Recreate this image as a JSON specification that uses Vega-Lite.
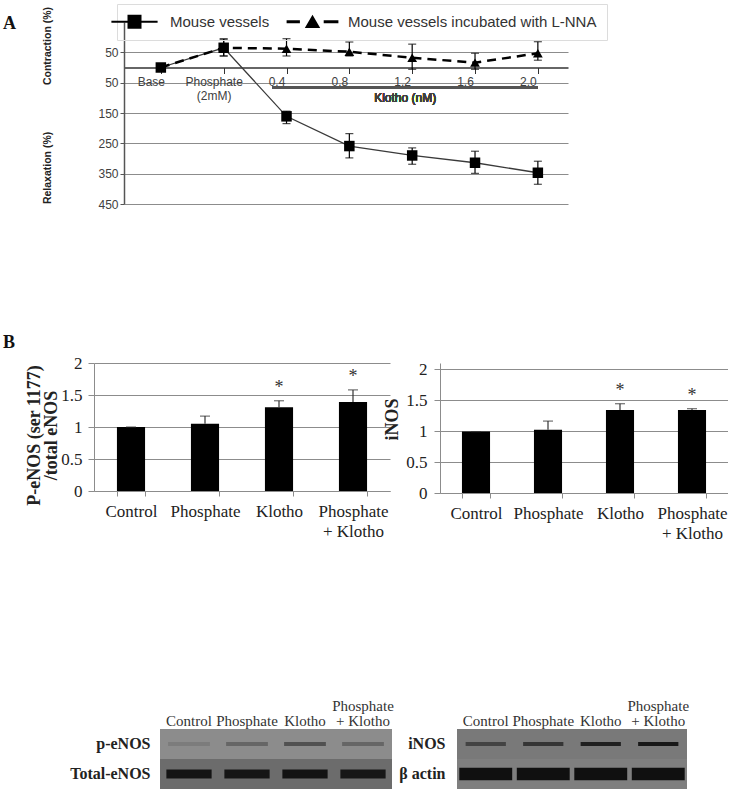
{
  "$schema": "https://vega.github.io/schema/vega-lite/v6.json",
  "autosize": {"type": "pad"},
  "padding": {"left": 3, "top": 3, "right": 0, "bottom": 0},
  "background": "white",
  "config": {"view": {"stroke": null}, "font": "Liberation Sans"},
  "datasets": {
    "vessels": [
      {"series": "Mouse vessels incubated with L-NNA", "dose": "Base", "value": 0, "lo": null, "hi": null},
      {"series": "Mouse vessels incubated with L-NNA", "dose": "Phosphate (2mM)", "value": 65, "lo": 38, "hi": 94},
      {"series": "Mouse vessels incubated with L-NNA", "dose": "0.4", "value": 62, "lo": 38, "hi": 95},
      {"series": "Mouse vessels incubated with L-NNA", "dose": "0.8", "value": 52, "lo": 38, "hi": 84},
      {"series": "Mouse vessels incubated with L-NNA", "dose": "1.2", "value": 32, "lo": -6, "hi": 77},
      {"series": "Mouse vessels incubated with L-NNA", "dose": "1.6", "value": 16, "lo": -6, "hi": 47},
      {"series": "Mouse vessels incubated with L-NNA", "dose": "2.0", "value": 47, "lo": 24, "hi": 85},
      {"series": "Mouse vessels", "dose": "Base", "value": 0, "lo": null, "hi": null},
      {"series": "Mouse vessels", "dose": "Phosphate (2mM)", "value": 65, "lo": 38, "hi": 94},
      {"series": "Mouse vessels", "dose": "0.4", "value": -161, "lo": -185, "hi": -144},
      {"series": "Mouse vessels", "dose": "0.8", "value": -259, "lo": -298, "hi": -218},
      {"series": "Mouse vessels", "dose": "1.2", "value": -290, "lo": -319, "hi": -265},
      {"series": "Mouse vessels", "dose": "1.6", "value": -314, "lo": -349, "hi": -276},
      {"series": "Mouse vessels", "dose": "2.0", "value": -347, "lo": -385, "hi": -309}
    ],
    "peNOS": [
      {"condition": "Control", "ratio": 1.0, "upper": 1.0, "sig": ""},
      {"condition": "Phosphate", "ratio": 1.05, "upper": 1.17, "sig": ""},
      {"condition": "Klotho", "ratio": 1.31, "upper": 1.41, "sig": "*"},
      {"condition": "Phosphate + Klotho", "ratio": 1.39, "upper": 1.58, "sig": "*"}
    ],
    "iNOS": [
      {"condition": "Control", "ratio": 0.99, "upper": 0.99, "sig": ""},
      {"condition": "Phosphate", "ratio": 1.02, "upper": 1.16, "sig": ""},
      {"condition": "Klotho", "ratio": 1.34, "upper": 1.44, "sig": "*"},
      {"condition": "Phosphate + Klotho", "ratio": 1.34, "upper": 1.36, "sig": "*"}
    ],
    "blotL": [
      {"kind": "membrane", "protein": "p-eNOS", "density": 0.12},
      {"kind": "membrane", "protein": "Total-eNOS", "density": 0.32},
      {"kind": "band", "protein": "p-eNOS", "lane": "Control", "density": 0.22},
      {"kind": "band", "protein": "p-eNOS", "lane": "Phosphate", "density": 0.36},
      {"kind": "band", "protein": "p-eNOS", "lane": "Klotho", "density": 0.5},
      {"kind": "band", "protein": "p-eNOS", "lane": "Phosphate + Klotho", "density": 0.36},
      {"kind": "band", "protein": "Total-eNOS", "lane": "Control", "density": 0.94},
      {"kind": "band", "protein": "Total-eNOS", "lane": "Phosphate", "density": 0.93},
      {"kind": "band", "protein": "Total-eNOS", "lane": "Klotho", "density": 0.95},
      {"kind": "band", "protein": "Total-eNOS", "lane": "Phosphate + Klotho", "density": 0.92}
    ],
    "blotR": [
      {"kind": "membrane", "protein": "iNOS", "density": 0.24},
      {"kind": "membrane", "protein": "β actin", "density": 0.2},
      {"kind": "band", "protein": "iNOS", "lane": "Control", "density": 0.59},
      {"kind": "band", "protein": "iNOS", "lane": "Phosphate", "density": 0.69},
      {"kind": "band", "protein": "iNOS", "lane": "Klotho", "density": 0.85},
      {"kind": "band", "protein": "iNOS", "lane": "Phosphate + Klotho", "density": 0.91},
      {"kind": "band", "protein": "β actin", "lane": "Control", "density": 0.97},
      {"kind": "band", "protein": "β actin", "lane": "Phosphate", "density": 0.97},
      {"kind": "band", "protein": "β actin", "lane": "Klotho", "density": 0.97},
      {"kind": "band", "protein": "β actin", "lane": "Phosphate + Klotho", "density": 0.97}
    ]
  },
  "vconcat": [
    {
      "hconcat": [
        {"width": 1, "height": 312, "data": {"values": []}, "mark": "point"},
        {
          "width": 444, "height": 182,
          "title": {"text": "A", "anchor": "start", "frame": "group", "offset": 0, "dx": -121, "dy": 40.5, "baseline": "alphabetic", "font": "Liberation Serif", "fontSize": 18, "fontWeight": "bold", "color": "#111"},
          "data": {"name": "vessels"},
          "encoding": {
            "x": {"field": "dose", "type": "ordinal",
              "scale": {"type": "point", "domain": ["Base", "Phosphate (2mM)", "0.4", "0.8", "1.2", "1.6", "2.0"], "padding": 0.533, "align": 0.55},
              "axis": {"title": null, "offset": -136.5, "domainColor": "#333", "domainWidth": 1.5, "tickColor": "#333", "tickSize": 6, "labelPadding": 3, "labelAngle": 0, "labelFont": "Liberation Sans", "labelFontSize": 12, "labelColor": "#404040", "labelOffset": -10, "labelLineHeight": 14, "labelOverlap": false, "grid": false,
                "labelExpr": "datum.value == 'Phosphate (2mM)' ? ['Phosphate', '(2mM)'] : datum.value"}}
          },
          "layer": [
            {"mark": {"type": "rule", "color": "#555", "strokeWidth": 2, "xOffset": -14},
             "encoding": {"x": {"datum": "0.4", "type": "ordinal"}, "x2": {"datum": "2.0"}, "y": {"datum": -66, "type": "quantitative"}}},
            {"mark": {"type": "text", "dx": -7, "font": "Liberation Sans", "fontSize": 12, "color": "#404040", "baseline": "middle"},
             "encoding": {"x": {"datum": "1.2", "type": "ordinal"}, "y": {"datum": -101, "type": "quantitative"}, "text": {"value": "Klotho (nM)"}}},
            {"transform": [{"filter": "datum.series == 'Mouse vessels'"}],
             "mark": {"type": "line", "color": "#3a3a3a", "strokeWidth": 1.3},
             "encoding": {"order": {"value": null},
               "y": {"field": "value", "type": "quantitative", "scale": {"domain": [-450, 150], "nice": false, "zero": false},
                 "axis": {"values": [50, -50, -150, -250, -350, -450], "tickCount": 20, "labelOverlap": false, "labelExpr": "abs(datum.value)",
                   "title": "Relaxation (%)\u00a0\u00a0\u00a0\u00a0\u00a0\u00a0\u00a0\u00a0\u00a0\u00a0\u00a0\u00a0\u00a0\u00a0\u00a0\u00a0Contraction (%)",
                   "titleFont": "Liberation Sans", "titleFontWeight": "bold", "titleFontSize": 10.5, "titleColor": "#222", "titlePadding": 45, "titleY": 83,
                   "grid": true, "gridColor": "#8c8c8c", "domainColor": "#555", "domainWidth": 1.5, "tickColor": "#555", "tickSize": 4, "labelPadding": 2,
                   "labelFont": "Liberation Sans", "labelFontSize": 12, "labelColor": "#404040"}}}},
            {"transform": [{"filter": "datum.series != 'Mouse vessels'"}],
             "mark": {"type": "line", "color": "#000", "strokeWidth": 2.5, "strokeDash": [9, 6]},
             "encoding": {"order": {"value": null}, "y": {"field": "value", "type": "quantitative"}}},
            {"mark": {"type": "rule", "color": "#000", "strokeWidth": 1.2},
             "encoding": {"y": {"field": "lo", "type": "quantitative"}, "y2": {"field": "hi"}}},
            {"mark": {"type": "tick", "color": "#000", "size": 8, "thickness": 1.2},
             "encoding": {"y": {"field": "lo", "type": "quantitative"}}},
            {"mark": {"type": "tick", "color": "#000", "size": 8, "thickness": 1.2},
             "encoding": {"y": {"field": "hi", "type": "quantitative"}}},
            {"transform": [{"filter": "datum.series != 'Mouse vessels'"}],
             "mark": {"type": "point", "filled": true, "color": "#000", "size": 95, "opacity": 1, "shape": "triangle-up"},
             "encoding": {"y": {"field": "value", "type": "quantitative"}}},
            {"transform": [{"filter": "datum.series == 'Mouse vessels'"}],
             "mark": {"type": "point", "filled": true, "color": "#000", "size": 110, "opacity": 1, "shape": "square"},
             "encoding": {"y": {"field": "value", "type": "quantitative"}}},
            {"mark": {"type": "point", "filled": true, "color": "#000", "size": 196, "opacity": 0},
             "encoding": {"y": {"field": "value", "type": "quantitative"},
               "shape": {"field": "series", "type": "nominal",
                 "scale": {"domain": ["Mouse vessels", "Mouse vessels incubated with L-NNA"],
                   "range": ["M-3.3,-0.14H3.3V0.14H-3.3Z M-1,-1H1V1H-1Z", "M-3.7,-0.2H-1.8V0.2H-3.7Z M-1.1,0.9L0,-1L1.1,0.9Z M1.6,-0.2H3.7V0.2H1.6Z"]},
                 "legend": {"orient": "none", "legendX": 23, "legendY": -18, "direction": "horizontal", "title": null,
                   "symbolSize": 196, "symbolOpacity": 1, "symbolFillColor": "#000", "symbolStrokeColor": "#000", "symbolStrokeWidth": 0.5,
                   "labelOffset": 28, "columnPadding": 15, "padding": 10, "strokeColor": "#dcdcdc",
                   "labelFont": "Liberation Sans", "labelFontSize": 15, "labelColor": "#333", "labelLimit": 400}}}}
          ]
        }
      ],
      "spacing": 29, "bounds": "flush"
    },
    {
      "hconcat": [
        {
          "width": 296, "height": 128,
          "title": {"text": "B", "anchor": "start", "frame": "group", "offset": 0, "dx": -91, "dy": 12, "baseline": "alphabetic", "font": "Liberation Serif", "fontSize": 18, "fontWeight": "bold", "color": "#111"},
          "data": {"name": "peNOS"},
          "encoding": {
            "x": {"field": "condition", "type": "nominal", "sort": null, "scale": {"paddingInner": 0.62, "paddingOuter": 0.31},
              "axis": {"title": null, "tickBand": "extent", "domainColor": "#8c8c8c", "tickColor": "#8c8c8c", "tickSize": 5, "labelAngle": 0, "labelFont": "Liberation Serif", "labelFontSize": 17, "labelColor": "#222", "labelPadding": 7, "labelLineHeight": 20, "labelOverlap": false,
                "labelExpr": "datum.value == 'Phosphate + Klotho' ? ['Phosphate', '+ Klotho'] : datum.value"}}
          },
          "layer": [
            {"mark": {"type": "bar", "color": "#000"},
             "encoding": {"y": {"field": "ratio", "type": "quantitative", "scale": {"domain": [0, 2], "nice": false},
               "axis": {"values": [0, 0.5, 1, 1.5, 2], "tickCount": 20, "labelOverlap": false, "format": "~g", "title": ["P-eNOS (ser 1177)", "/total eNOS"], "titleFont": "Liberation Serif", "titleFontSize": 18, "titleFontWeight": "bold", "titleColor": "#222", "titleLineHeight": 17, "titlePadding": 0, "titleY": 72,
                 "grid": true, "gridColor": "#8c8c8c", "domainColor": "#8c8c8c", "tickColor": "#8c8c8c", "tickSize": 6, "labelPadding": 6, "labelFont": "Liberation Serif", "labelFontSize": 17, "labelColor": "#222"}}}},
            {"mark": {"type": "rule", "color": "#333", "strokeWidth": 1.2},
             "encoding": {"y": {"field": "ratio", "type": "quantitative"}, "y2": {"field": "upper"}}},
            {"mark": {"type": "tick", "color": "#333", "size": 10, "thickness": 1.2},
             "encoding": {"y": {"field": "upper", "type": "quantitative"}}},
            {"mark": {"type": "text", "font": "Liberation Serif", "fontSize": 18, "color": "#333", "baseline": "alphabetic", "dy": -8},
             "encoding": {"y": {"field": "upper", "type": "quantitative"}, "text": {"field": "sig"}}}
          ]
        },
        {"width": 2, "height": 335, "data": {"values": []}, "mark": "point"},
        {
          "width": 288, "height": 130,
          "data": {"name": "iNOS"},
          "encoding": {
            "x": {"field": "condition", "type": "nominal", "sort": null, "scale": {"paddingInner": 0.61, "paddingOuter": 0.305},
              "axis": {"title": null, "tickBand": "extent", "domainColor": "#8c8c8c", "tickColor": "#8c8c8c", "tickSize": 5, "labelAngle": 0, "labelFont": "Liberation Serif", "labelFontSize": 17, "labelColor": "#222", "labelPadding": 7, "labelLineHeight": 20, "labelOverlap": false,
                "labelExpr": "datum.value == 'Phosphate + Klotho' ? ['Phosphate', '+ Klotho'] : datum.value"}}
          },
          "layer": [
            {"mark": {"type": "bar", "color": "#000"},
             "encoding": {"y": {"field": "ratio", "type": "quantitative", "scale": {"domain": [0, 2.0968], "nice": false},
               "axis": {"values": [0, 0.5, 1, 1.5, 2], "tickCount": 20, "labelOverlap": false, "format": "~g", "title": "iNOS", "titleFont": "Liberation Serif", "titleFontSize": 18, "titleFontWeight": "bold", "titleColor": "#222", "titlePadding": 4, "titleY": 56,
                 "grid": true, "gridColor": "#8c8c8c", "domainColor": "#8c8c8c", "tickColor": "#8c8c8c", "tickSize": 6, "labelPadding": 7, "labelFont": "Liberation Serif", "labelFontSize": 17, "labelColor": "#222"}}}},
            {"mark": {"type": "rule", "color": "#333", "strokeWidth": 1.2},
             "encoding": {"y": {"field": "ratio", "type": "quantitative"}, "y2": {"field": "upper"}}},
            {"mark": {"type": "tick", "color": "#333", "size": 10, "thickness": 1.2},
             "encoding": {"y": {"field": "upper", "type": "quantitative"}}},
            {"mark": {"type": "text", "font": "Liberation Serif", "fontSize": 18, "color": "#333", "baseline": "alphabetic", "dy": -8},
             "encoding": {"y": {"field": "upper", "type": "quantitative"}, "text": {"field": "sig"}}}
          ]
        }
      ],
      "spacing": 24, "bounds": "flush"
    },
    {
      "hconcat": [
        {"width": 1, "height": 1, "data": {"values": []}, "mark": "point"},
        {
          "width": 232, "height": 60,
          "data": {"name": "blotL"},
          "layer": [
            {"transform": [{"filter": "datum.kind == 'membrane'"}],
             "mark": {"type": "rect"},
             "encoding": {
               "y": {"field": "protein", "type": "nominal", "sort": null, "scale": {"paddingInner": 0, "paddingOuter": 0},
                 "axis": {"title": null, "ticks": false, "domain": false, "labelFont": "Liberation Serif", "labelFontSize": 16, "labelFontWeight": "bold", "labelColor": "#222", "labelPadding": 10}},
               "color": {"field": "density", "type": "quantitative", "scale": {"domain": [0, 1], "range": ["#a0a0a0", "#0a0a0a"]}, "legend": null}}},
            {"transform": [{"filter": "datum.kind == 'band' && datum.protein == 'p-eNOS'"}],
             "mark": {"type": "rect", "width": {"band": 0.72}, "height": {"band": 0.13}},
             "encoding": {
               "x": {"field": "lane", "type": "nominal", "sort": null, "scale": {"paddingInner": 0, "paddingOuter": 0},
                 "axis": {"orient": "top", "title": null, "ticks": false, "tickSize": 0, "domain": false, "labelAngle": 0, "labelFont": "Liberation Serif", "labelFontSize": 15, "labelColor": "#333", "labelPadding": 16, "labelLineHeight": 15, "labelOverlap": false,
                   "labelExpr": "datum.value == 'Phosphate + Klotho' ? ['Phosphate', '+ Klotho'] : ['', datum.value]"}},
               "y": {"field": "protein", "type": "nominal", "sort": null},
               "color": {"field": "density", "type": "quantitative"}}},
            {"transform": [{"filter": "datum.kind == 'band' && datum.protein == 'Total-eNOS'"}],
             "mark": {"type": "rect", "width": {"band": 0.78}, "height": {"band": 0.3}},
             "encoding": {
               "x": {"field": "lane", "type": "nominal", "sort": null},
               "y": {"field": "protein", "type": "nominal", "sort": null},
               "color": {"field": "density", "type": "quantitative"}}}
          ]
        },
        {
          "width": 230, "height": 60,
          "data": {"name": "blotR"},
          "layer": [
            {"transform": [{"filter": "datum.kind == 'membrane'"}],
             "mark": {"type": "rect"},
             "encoding": {
               "y": {"field": "protein", "type": "nominal", "sort": null, "scale": {"paddingInner": 0, "paddingOuter": 0},
                 "axis": {"title": null, "ticks": false, "domain": false, "labelFont": "Liberation Serif", "labelFontSize": 16, "labelFontWeight": "bold", "labelColor": "#222", "labelPadding": 12}},
               "color": {"field": "density", "type": "quantitative", "scale": {"domain": [0, 1], "range": ["#a0a0a0", "#0a0a0a"]}, "legend": null}}},
            {"transform": [{"filter": "datum.kind == 'band' && datum.protein == 'iNOS'"}],
             "mark": {"type": "rect", "width": {"band": 0.7}, "height": {"band": 0.13}},
             "encoding": {
               "x": {"field": "lane", "type": "nominal", "sort": null, "scale": {"paddingInner": 0, "paddingOuter": 0},
                 "axis": {"orient": "top", "title": null, "ticks": false, "tickSize": 0, "domain": false, "labelAngle": 0, "labelFont": "Liberation Serif", "labelFontSize": 15, "labelColor": "#333", "labelPadding": 16, "labelLineHeight": 15, "labelOverlap": false,
                   "labelExpr": "datum.value == 'Phosphate + Klotho' ? ['Phosphate', '+ Klotho'] : ['', datum.value]"}},
               "y": {"field": "protein", "type": "nominal", "sort": null},
               "color": {"field": "density", "type": "quantitative"}}},
            {"transform": [{"filter": "datum.kind == 'band' && datum.protein == 'β actin'"}],
             "mark": {"type": "rect", "width": {"band": 0.92}, "height": {"band": 0.42}},
             "encoding": {
               "x": {"field": "lane", "type": "nominal", "sort": null},
               "y": {"field": "protein", "type": "nominal", "sort": null},
               "color": {"field": "density", "type": "quantitative"}}}
          ]
        }
      ],
      "spacing": 65, "bounds": "flush"
    }
  ],
  "spacing": 0
}
